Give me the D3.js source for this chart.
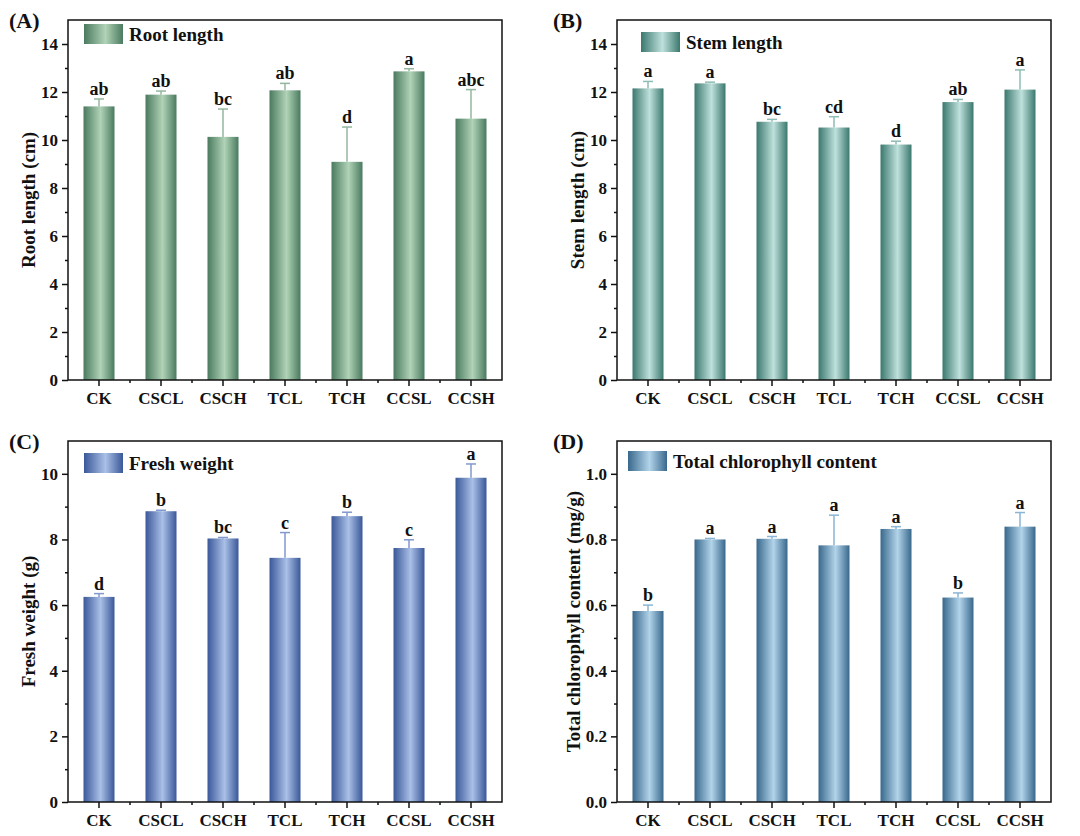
<!DOCTYPE html>
<html>
<head>
<meta charset="utf-8">
<script src="https://cdn.jsdelivr.net/npm/d3@7"></script>
<style>
  body { margin: 0; background: #fff; }
  text { font-family: "Liberation Serif", "Times New Roman", serif; font-weight: bold; fill: #111; }
</style>
</head>
<body>
<svg width="1080" height="836"></svg>
<script>
const categories = ["CK", "CSCL", "CSCH", "TCL", "TCH", "CCSL", "CCSH"];

const rootLength = [11.40, 11.89, 10.13, 12.07, 9.09, 12.86, 10.89];
const rootErr = [0.31, 0.15, 1.16, 0.29, 1.45, 0.11, 1.21];
const rootLetters = ["ab", "ab", "bc", "ab", "d", "a", "abc"];

const stemLength = [12.15, 12.36, 10.76, 10.52, 9.81, 11.58, 12.10];
const stemErr = [0.29, 0.05, 0.10, 0.45, 0.14, 0.11, 0.82];
const stemLetters = ["a", "a", "bc", "cd", "d", "ab", "a"];

const freshWeight = [6.25, 8.86, 8.03, 7.44, 8.71, 7.74, 9.88];
const freshErr = [0.10, 0.03, 0.03, 0.77, 0.12, 0.25, 0.42];
const freshLetters = ["d", "b", "bc", "c", "b", "c", "a"];

const chlorophyll = [0.582, 0.800, 0.802, 0.782, 0.832, 0.623, 0.839];
const chlErr = [0.018, 0.003, 0.007, 0.092, 0.007, 0.014, 0.043];
const chlLetters = ["b", "a", "a", "a", "a", "b", "a"];

const rootTicks = [0, 2, 4, 6, 8, 10, 12, 14];
const stemTicks = [0, 2, 4, 6, 8, 10, 12, 14];
const freshTicks = [0, 2, 4, 6, 8, 10];
const chlTicks = [0, 0.2, 0.4, 0.6, 0.8, 1.0];

const svg = d3.select("svg");

const panels = [
  { tag: "(A)", values: rootLength, err: rootErr, letters: rootLetters, ticks: rootTicks, max: 15, fmt: d3.format("d"),
    title: "Root length (cm)", legend: "Root length", box: [68, 20, 502, 380],
    dark: "#4a7a5f", light: "#b1d3b7", errColor: "#93b89e", legendPos: [84, 24], labelX: 28 },
  { tag: "(B)", values: stemLength, err: stemErr, letters: stemLetters, ticks: stemTicks, max: 15, fmt: d3.format("d"),
    title: "Stem length (cm)", legend: "Stem length", box: [617, 20, 1051, 380],
    dark: "#3b786e", light: "#bfe1dc", errColor: "#8fbcb4", legendPos: [641, 32], labelX: 577 },
  { tag: "(C)", values: freshWeight, err: freshErr, letters: freshLetters, ticks: freshTicks, max: 11, fmt: d3.format("d"),
    title: "Fresh weight (g)", legend: "Fresh weight", box: [68, 441, 502, 802],
    dark: "#3a5899", light: "#aac0e7", errColor: "#8199cc", legendPos: [84, 453], labelX: 28 },
  { tag: "(D)", values: chlorophyll, err: chlErr, letters: chlLetters, ticks: chlTicks, max: 1.1, fmt: d3.format(".1f"),
    title: "Total chlorophyll content (mg/g)", legend: "Total chlorophyll content", box: [617, 441, 1051, 802],
    dark: "#39688c", light: "#b2d4ea", errColor: "#8ab5d4", legendPos: [628, 451], labelX: 573 }
];

const defs = svg.append("defs");

panels.forEach((p, i) => {
  const [x0, y0, x1, y1] = p.box;
  const gid = "grad" + i;
  const grad = defs.append("linearGradient").attr("id", gid).attr("x1", 0).attr("x2", 1).attr("y1", 0).attr("y2", 0);
  grad.append("stop").attr("offset", "0%").attr("stop-color", p.dark);
  grad.append("stop").attr("offset", "55%").attr("stop-color", p.light);
  grad.append("stop").attr("offset", "100%").attr("stop-color", p.dark);

  const x = d3.scaleBand().domain(categories).range([x0, x1]).paddingInner(0.5).paddingOuter(0.25);
  const y = d3.scaleLinear().domain([0, p.max]).range([y1, y0]);

  const g = svg.append("g");

  // bars
  g.selectAll("rect.bar")
    .data(p.values)
    .enter().append("rect")
    .attr("class", "bar")
    .attr("x", (d, j) => x(categories[j]))
    .attr("width", x.bandwidth())
    .attr("y", d => y(d))
    .attr("height", d => y(0) - y(d))
    .attr("fill", `url(#${gid})`);

  // error bars (upper only)
  const cap = 5;
  p.values.forEach((v, j) => {
    const cx = x(categories[j]) + x.bandwidth() / 2;
    const top = y(v + p.err[j]);
    g.append("line").attr("x1", cx).attr("x2", cx).attr("y1", y(v)).attr("y2", top)
      .attr("stroke", p.errColor).attr("stroke-width", 1.5);
    g.append("line").attr("x1", cx - cap).attr("x2", cx + cap).attr("y1", top).attr("y2", top)
      .attr("stroke", p.errColor).attr("stroke-width", 1.5);
    g.append("text").attr("x", cx).attr("y", top - 4).attr("text-anchor", "middle")
      .attr("font-size", 18).text(p.letters[j]);
  });

  // minor ticks
  const step = p.ticks[1] - p.ticks[0];
  const minor = p.ticks.map(t => t + step / 2).filter(t => t < p.max);
  g.append("g").attr("transform", `translate(${x0},0)`)
    .call(d3.axisLeft(y).tickValues(minor).tickSize(3).tickFormat(""))
    .call(a => a.select(".domain").remove())
    .call(a => a.selectAll("line").attr("stroke", "#111").attr("stroke-width", 1.5));

  // y axis
  g.append("g").attr("transform", `translate(${x0},0)`)
    .call(d3.axisLeft(y).tickValues(p.ticks).tickSize(6).tickPadding(4).tickFormat(p.fmt))
    .call(a => a.select(".domain").remove())
    .call(a => a.selectAll("line").attr("stroke", "#111").attr("stroke-width", 1.5))
    .call(a => a.selectAll("text").attr("font-size", 17));

  // x axis
  g.append("g").attr("transform", `translate(0,${y1})`)
    .call(d3.axisBottom(x).tickSize(6).tickPadding(6))
    .call(a => a.select(".domain").remove())
    .call(a => a.selectAll("line").attr("stroke", "#111").attr("stroke-width", 1.5))
    .call(a => a.selectAll("text").attr("font-size", 17));

  // x minor ticks between categories
  const mids = categories.slice(1).map(c => x(c) - x.step() * x.paddingInner() / 2);
  g.selectAll("line.xminor").data(mids).enter().append("line")
    .attr("x1", d => d).attr("x2", d => d).attr("y1", y1).attr("y2", y1 + 3)
    .attr("stroke", "#111").attr("stroke-width", 1.5);

  // frame
  g.append("rect").attr("x", x0).attr("y", y0).attr("width", x1 - x0).attr("height", y1 - y0)
    .attr("fill", "none").attr("stroke", "#111").attr("stroke-width", 1.5);

  // legend
  const [lx, ly] = p.legendPos;
  g.append("rect").attr("x", lx).attr("y", ly).attr("width", 39).attr("height", 20)
    .attr("fill", `url(#${gid})`);
  g.append("text").attr("x", lx + 45).attr("y", ly + 17).attr("font-size", 19).text(p.legend);

  // y title
  g.append("text")
    .attr("transform", `translate(${p.labelX},${(y0 + y1) / 2}) rotate(-90)`)
    .attr("text-anchor", "middle").attr("dominant-baseline", "central")
    .attr("font-size", 19).text(p.title);

  // panel tag
  g.append("text").attr("x", i % 2 === 0 ? 9 : 553).attr("y", y0 + 8).attr("font-size", 22).text(p.tag);
});
</script>
</body>
</html>
